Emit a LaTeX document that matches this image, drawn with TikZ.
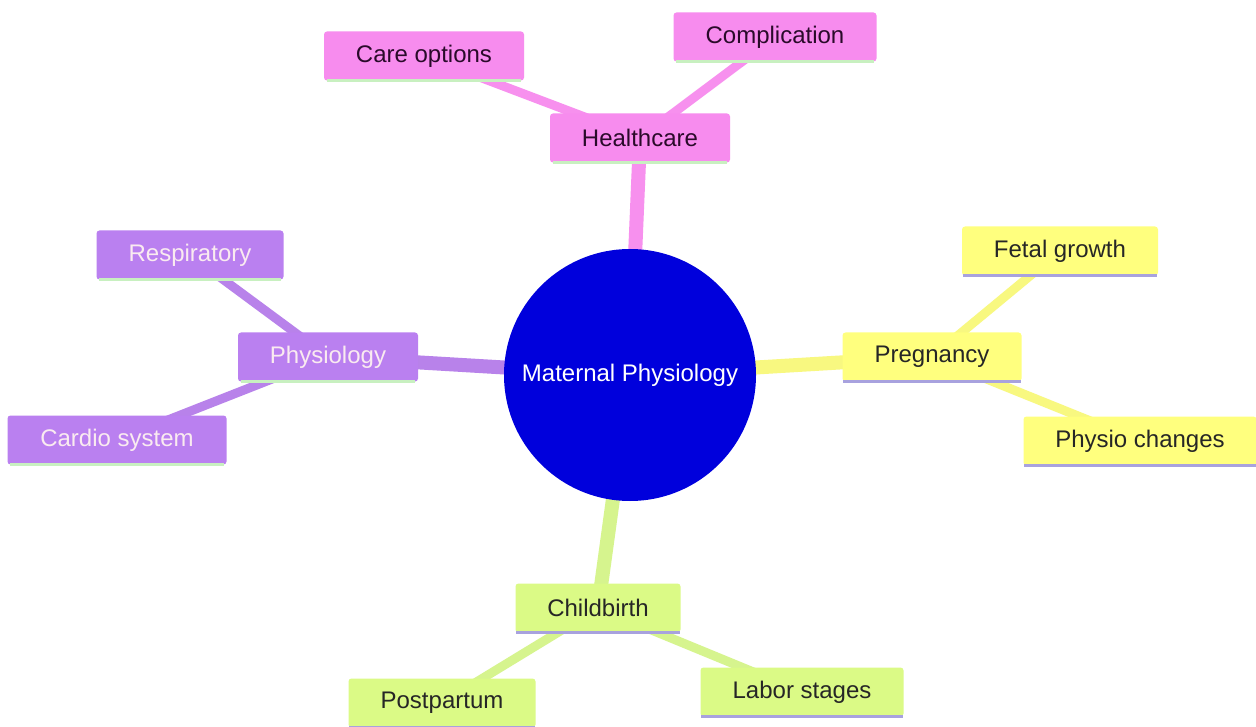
\documentclass[tikz,border=0pt]{standalone}
\usepackage{fontspec}
\setmainfont{Liberation Sans}
\usetikzlibrary{backgrounds}
\definecolor{pinkc}{HTML}{F78CEE}
\definecolor{purpc}{HTML}{BA80F0}
\definecolor{yelc}{HTML}{FFFF7E}
\definecolor{grnc}{HTML}{DBFA86}
\definecolor{bluec}{HTML}{0000DC}
\definecolor{pinkline}{HTML}{F790EE}
\definecolor{purpline}{HTML}{B882EA}
\definecolor{yelline}{HTML}{F8F880}
\definecolor{grnline}{HTML}{D6F48E}
\definecolor{greenedge}{HTML}{C8F0C0}
\definecolor{lavedge}{HTML}{A8A2DE}
\definecolor{darktext}{HTML}{2A0A2A}
\tikzset{
  box/.style={rounded corners=3pt, minimum height=49pt, inner sep=0pt,
    font=\fontsize{24}{28}\selectfont},
  hcbox/.style={box, fill=pinkc, text=darktext},
  phbox/.style={box, fill=purpc, text=white!92!purple},
  prbox/.style={box, fill=yelc, text=black!85},
  cbbox/.style={box, fill=grnc, text=black!85},
  mainline/.style={line width=14pt},
  subline/.style={line width=9pt},
  edgeline/.style={line width=3pt}
}
\begin{document}
\begin{tikzpicture}[x=1pt,y=-1pt]
\useasboundingbox (0,0) rectangle (1256,727);

\node[circle, fill=bluec, minimum size=252pt, inner sep=0pt, text=white,
  font=\fontsize{24}{28}\selectfont] (root) at (630,375) {Maternal Physiology};

\node[hcbox, minimum width=180pt] (hc) at (640,138) {Healthcare};
\node[hcbox, minimum width=200pt] (care) at (424,56) {Care options};
\node[hcbox, minimum width=203pt] (comp) at (775,37) {Complication};

\node[phbox, minimum width=180pt] (phys) at (328,357) {Physiology};
\node[phbox, minimum width=187pt] (resp) at (190,255) {Respiratory};
\node[phbox, minimum width=219pt] (card) at (117,440) {Cardio system};

\node[prbox, minimum width=179pt] (preg) at (932,357) {Pregnancy};
\node[prbox, minimum width=196pt] (fetal) at (1060,251) {Fetal growth};
\node[prbox, minimum width=233pt] (pchg) at (1140,441) {Physio changes};

\node[cbbox, minimum width=165pt] (child) at (598,608) {Childbirth};
\node[cbbox, minimum width=187pt] (post) at (442,703) {Postpartum};
\node[cbbox, minimum width=203pt] (labor) at (802,692) {Labor stages};

\foreach \n in {hc,care,comp,phys,resp,card}
  \draw[greenedge, edgeline] ([xshift=3pt]\n.south west) -- ([xshift=-3pt]\n.south east);
\foreach \n in {preg,fetal,pchg,child,post,labor}
  \draw[lavedge, edgeline] ([xshift=1pt]\n.south west) -- ([xshift=-1pt]\n.south east);

\begin{scope}[on background layer]
  \fill[white] (0,0) rectangle (1256,727);
  \draw[pinkline, mainline] (root.center) -- (hc.center);
  \draw[pinkline, subline] (hc.center) -- (care.center);
  \draw[pinkline, subline] (hc.center) -- (comp.center);
  \draw[purpline, mainline] (root.center) -- (phys.center);
  \draw[purpline, subline] (phys.center) -- (resp.center);
  \draw[purpline, subline] (phys.center) -- (card.center);
  \draw[yelline, mainline] (root.center) -- (preg.center);
  \draw[yelline, subline] (preg.center) -- (fetal.center);
  \draw[yelline, subline] (preg.center) -- (pchg.center);
  \draw[grnline, mainline] (root.center) -- (child.center);
  \draw[grnline, subline] (child.center) -- (post.center);
  \draw[grnline, subline] (child.center) -- (labor.center);
\end{scope}
\end{tikzpicture}
\end{document}
